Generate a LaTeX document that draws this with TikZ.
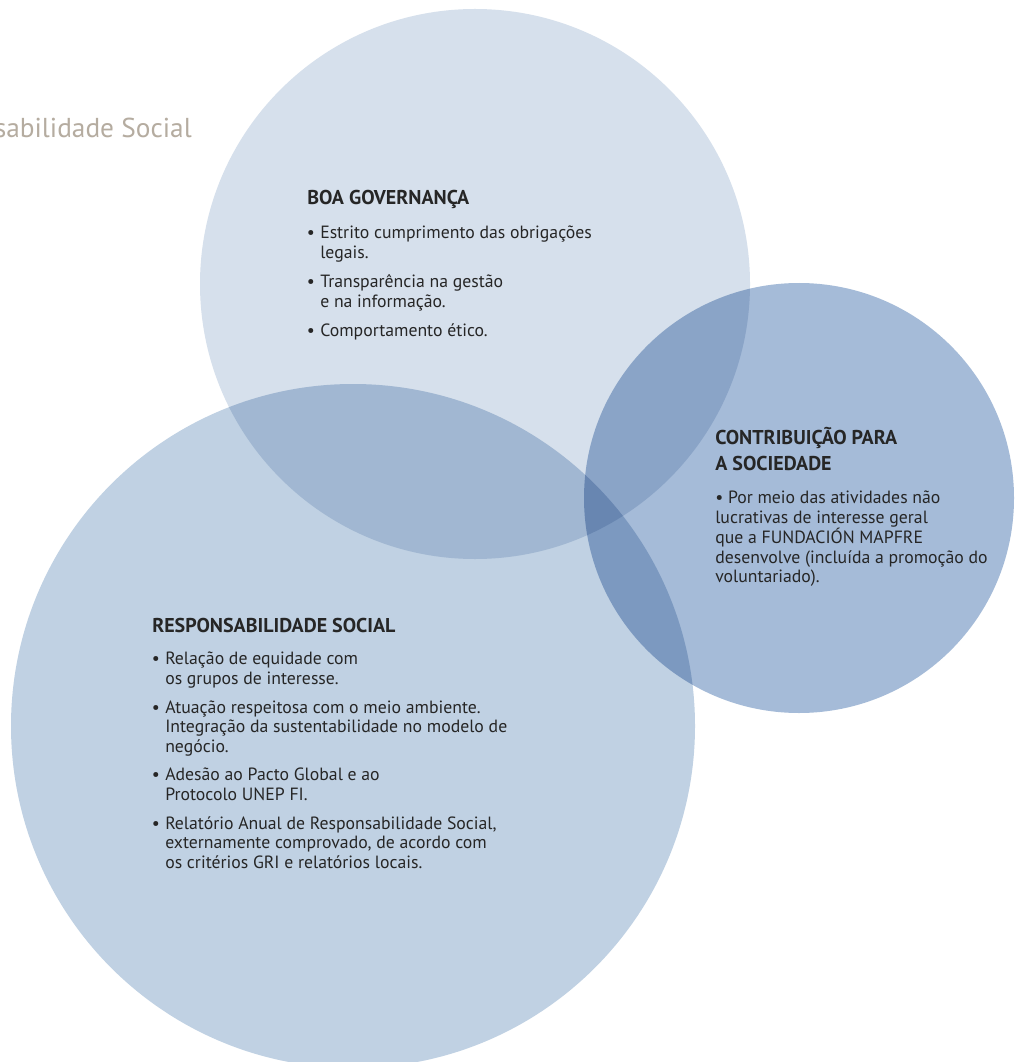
\documentclass[tikz,border=0pt]{standalone}
\usepackage{fontspec}
\setmainfont{PT Sans}
\usetikzlibrary{positioning}
\definecolor{govblue}{HTML}{D6E0EC}
\definecolor{socblue}{HTML}{C0D1E3}
\definecolor{contrblue}{HTML}{A5BBD8}
\definecolor{titlegray}{HTML}{B5ACA0}
\definecolor{inktext}{HTML}{262626}
\newcommand{\itm}{\llap{\textbullet\hspace{4pt}}}
\tikzset{
  disc/.style={blend mode=multiply},
  head/.style={anchor=base west, inner sep=0pt, align=left, text=inktext,
    font=\fontsize{15}{19.5}\selectfont\bfseries},
  blist/.style={anchor=north west, inner sep=0pt, align=left, text=inktext,
    font=\fontsize{13.3}{14.8}\selectfont},
}
\begin{document}
\begin{tikzpicture}[x=0.75pt,y=-0.75pt]
\useasboundingbox (0,0) rectangle (1014,1062);
\clip (0,0) rectangle (1014,1062);
\fill[white] (0,0) rectangle (1014,1062);
% circles
\fill[govblue,disc] (475,284) circle[radius=206.25pt];
\fill[socblue,disc] (353,726) circle[radius=256.5pt];
\fill[contrblue,disc] (799,498) circle[radius=161.25pt];
% page title
\node[anchor=base east, inner sep=0pt, text=titlegray, font=\fontsize{20.5}{22}\selectfont]
  (title) at (192,138) {Responsabilidade Social};
% boa governanca
\node[head] (gov) at (307,205) {BOA GOVERNANÇA};
\node[blist] (govlist) at (320,226) {\itm Estrito cumprimento das obrigações\\
  legais.\\[7pt]
  \itm Transparência na gestão\\
  e na informação.\\[7pt]
  \itm Comportamento ético.};
% contribuicao
\node[head] (contr) at (715,470) {CONTRIBUIÇÃO PARA\\A SOCIEDADE};
\node[blist] (contrlist) at (715,491) {\textbullet{} Por meio das atividades não\\
  lucrativas de interesse geral\\
  que a FUNDACIÓN MAPFRE\\
  desenvolve (incluída a promoção do\\
  voluntariado).};
% responsabilidade social
\node[head] (soc) at (152,632) {RESPONSABILIDADE SOCIAL};
\node[blist] (soclist) at (165,652) {\itm Relação de equidade com\\
  os grupos de interesse.\\[6.5pt]
  \itm Atuação respeitosa com o meio ambiente.\\
  Integração da sustentabilidade no modelo de\\
  negócio.\\[6.5pt]
  \itm Adesão ao Pacto Global e ao\\
  Protocolo UNEP FI.\\[6.5pt]
  \itm Relatório Anual de Responsabilidade Social,\\
  externamente comprovado, de acordo com\\
  os critérios GRI e relatórios locais.};
\end{tikzpicture}
\end{document}
